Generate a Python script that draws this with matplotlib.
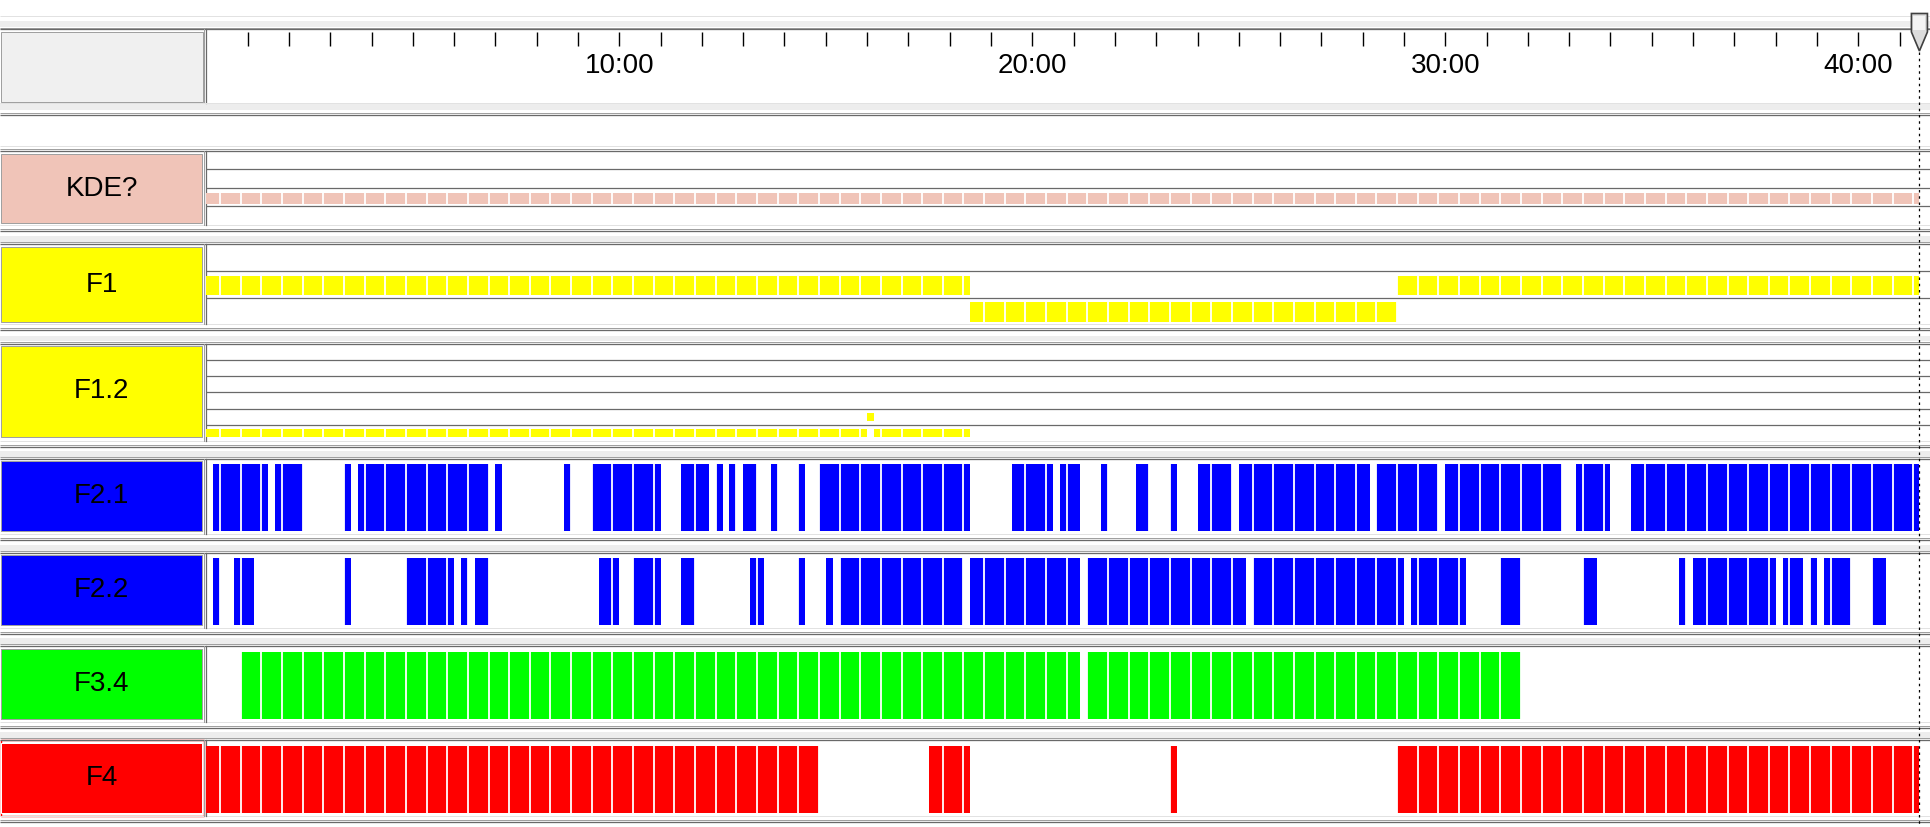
import numpy as np
import matplotlib.pyplot as plt
from matplotlib.patches import Rectangle, Polygon
from matplotlib.transforms import blended_transform_factory

plt.rcParams['font.family'] = ['Liberation Sans Narrow', 'Liberation Sans', 'DejaVu Sans']

# ---- data: annotation segments, minutes ----
END = 41.48            # end of media (cursor)
EPOCH = 0.5            # 30 s epochs
EPOCH_START = 1 / 3    # first epoch boundary at 0:20

tier_names = ["KDE?", "F1", "F1.2", "F2.1", "F2.2", "F3.4", "F4"]
tier_colors = ["#f0c4b8", "#ffff00", "#ffff00", "#0000ff", "#0000ff", "#00ff00", "#ff0000"]
tier_rows = [4, 3, 6, 1, 1, 1, 1]

# (row, start, end)
kde = [(2, 0.0, END)]
f1 = [(1, 0.0, 18.5), (2, 18.5, 28.833), (1, 28.833, END)]
f1_2 = [(5, 0.0, 16.0), (4, 16.0, 16.167), (5, 16.167, 18.5)]

# (start, end), single row
f2_1 = [(0.167, 1.5), (1.667, 2.333), (3.333, 3.5), (3.667, 6.833), (7.0, 7.167),
        (8.667, 8.833), (9.333, 11.0), (11.5, 12.167), (12.333, 12.5), (12.667, 12.833),
        (13.0, 13.333), (13.667, 13.833), (14.333, 14.5), (14.833, 18.5), (19.5, 20.5),
        (20.667, 21.167), (21.667, 21.833), (22.5, 22.833), (23.333, 23.5), (24.0, 24.833),
        (25.0, 28.167), (28.333, 29.833), (30.0, 32.833), (33.167, 34.0), (34.5, END)]
f2_2 = [(0.167, 0.333), (0.667, 1.167), (3.333, 3.5), (4.833, 6.0), (6.167, 6.333),
        (6.5, 6.833), (9.5, 10.0), (10.333, 11.0), (11.5, 11.833), (13.167, 13.5),
        (14.333, 14.5), (15.0, 15.167), (15.333, 18.333), (18.5, 21.167), (21.333, 25.167),
        (25.333, 29.0), (29.167, 30.5), (31.333, 31.833), (33.333, 33.667), (35.667, 35.833),
        (36.0, 38.0), (38.167, 38.667), (38.833, 39.0), (39.167, 39.833), (40.333, 40.667)]
f3_4 = [(0.833, 21.167), (21.333, 31.833)]
f4 = [(0.0, 14.833), (17.5, 18.5), (23.333, 23.5), (28.833, END)]

tick_minutes = list(range(1, 42))
label_minutes = [10, 20, 30, 40]
tick_labels = ["10:00", "20:00", "30:00", "40:00"]

tier_segments = [kde, f1, f1_2,
                 [(0, s, e) for s, e in f2_1],
                 [(0, s, e) for s, e in f2_2],
                 [(0, s, e) for s, e in f3_4],
                 [(0, s, e) for s, e in f4]]

# ---- layout (pixels) ----
W, H = 1931, 827
X0 = 206.3             # time 0
PX_PER_MIN = 41.3
XMAX = (W - X0) / PX_PER_MIN
tier_top = [150.5, 244, 343.5, 459, 553, 646, 740]
tier_bot = [225, 324.3, 441, 534, 628, 722, 816]
label_top = [154, 247, 346, 461, 555, 649, 743]
label_bot = [223, 322, 437, 531, 625, 719, 813]
bar_off = [0.27, 0.18, 0.27, 0.067, 0.067, 0.079, 0.079]
bar_h = [0.59, 0.72, 0.49, 0.893, 0.893, 0.88, 0.88]

DARK = "#696969"
MID = "#a0a0a0"
LIGHT = "#e2e2e2"
BAND = "#ededed"
LABEL_FONT = 20


def fig_rect(x0, x1, y0, y1):
    return [x0 / W, 1 - y1 / H, (x1 - x0) / W, (y1 - y0) / H]


fig = plt.figure(figsize=(W / 100, H / 100), dpi=100)
bg = fig.add_axes([0, 0, 1, 1])
bg.set_xlim(0, W)
bg.set_ylim(H, 0)
bg.axis('off')


def hline(y, color, lw=1.0):
    bg.plot([0, W], [y, y], color=color, lw=lw * 0.72, solid_capstyle='butt')


def vborder(y0, y1):
    bg.plot([204.5, 204.5], [y0, y1], color=MID, lw=0.72)
    bg.plot([206.5, 206.5], [y0, y1], color=DARK, lw=0.9)


# top light line
hline(16, LIGHT)

# header block
hdr_t, hdr_b = 29, 102.5
bg.add_patch(Rectangle((0, hdr_t - 8), W, 5.5, color=BAND, lw=0))
hline(hdr_t - 1.5, MID)
hline(hdr_t, DARK, 1.3)
bg.add_patch(Rectangle((1, 31.7), 202, 70.6, facecolor="#f0f0f0", edgecolor=MID, lw=0.72))
vborder(hdr_t, hdr_b)
hline(hdr_b, LIGHT)
bg.add_patch(Rectangle((0, hdr_b + 0.8), W, 7, color=BAND, lw=0))

# blank row
hline(113.3, MID)
hline(115.3, DARK, 1.3)
hline(146, LIGHT)

# tier blocks
for i, name in enumerate(tier_names):
    T, B = tier_top[i], tier_bot[i]
    if i > 0:
        bg.add_patch(Rectangle((0, T - 8), W, 5.5, color=BAND, lw=0))
    hline(T - 1.7, MID)
    hline(T, DARK, 1.3)
    hline(B, LIGHT)
    hline(B + 3.5, MID)
    hline(B + 5.5, DARK, 1.3)
    vborder(T, B)
    ly0, ly1 = label_top[i], label_bot[i]
    if name == "F4":
        bg.add_patch(Rectangle((0.6, T + 0.3), 203, B - T - 0.6, facecolor='none',
                               edgecolor='#ff0000', lw=1.0))
        edge = 'white'
    else:
        edge = MID
    bg.add_patch(Rectangle((1.5, ly0), 200.5, ly1 - ly0, facecolor=tier_colors[i],
                           edgecolor=edge, lw=0.72))
    bg.text(101.5, (ly0 + ly1) / 2, name, ha='center', va='center',
            fontsize=LABEL_FONT, color='black')

# header time ruler
hdr = fig.add_axes(fig_rect(X0, W, 31.5, hdr_b))
hdr.set_facecolor('none')
hdr.set_xlim(0, XMAX)
hdr.set_ylim(0, 1)
for s in hdr.spines.values():
    s.set_visible(False)
hdr.xaxis.set_ticks_position('top')
hdr.set_xticks(tick_minutes)
hdr.tick_params(axis='x', direction='in', length=10, width=1.0, color='black',
                labeltop=False, labelbottom=False)
hdr.set_yticks([])
for m, lab in zip(label_minutes, tick_labels):
    hdr.text(m, 0.51, lab, transform=hdr.get_xaxis_transform(), ha='center', va='center',
             fontsize=LABEL_FONT, color='black')

# tier panels
bounds = EPOCH_START + EPOCH * np.arange(0, int(END / EPOCH) + 2)
bounds = bounds[bounds < END]
for i, segs in enumerate(tier_segments):
    ax = fig.add_axes(fig_rect(X0, W, tier_top[i], tier_bot[i]))
    ax.set_facecolor('none')
    ax.set_xlim(0, XMAX)
    ax.set_ylim(tier_rows[i], 0)
    ax.axis('off')
    for r in range(1, tier_rows[i]):
        ax.axhline(r, color=DARK, lw=0.9)
    used_rows = sorted(set(r for r, s, e in segs))
    for r, s, e in segs:
        ax.broken_barh([(s, e - s)], (r + bar_off[i], bar_h[i]),
                       facecolors=tier_colors[i], edgecolors='none')
    for r in used_rows:
        ax.vlines(bounds, r + bar_off[i] - 0.01, r + bar_off[i] + bar_h[i] + 0.01,
                  colors='white', lw=1.3)

# cursor at end of media
fg = fig.add_axes([0, 0, 1, 1])
fg.set_facecolor('none')
fg.set_xlim(0, W)
fg.set_ylim(H, 0)
fg.axis('off')
trans = blended_transform_factory(hdr.transData, fg.transData)
fg.plot([END, END], [52, H], transform=trans, color='black', lw=0.9,
        linestyle=(0, (2, 3)))
cx = X0 + PX_PER_MIN * END
fg.add_patch(Polygon([(cx - 8, 13.5), (cx + 8, 13.5), (cx + 8, 32), (cx, 51), (cx - 8, 32)],
                     closed=True, facecolor='#dcdcdc', edgecolor='#404040', lw=1.2))
fg.add_patch(Rectangle((cx - 6, 15.5), 12, 14, facecolor='#f4f4f4', edgecolor='none'))

fig.savefig("out.png", dpi=100)
